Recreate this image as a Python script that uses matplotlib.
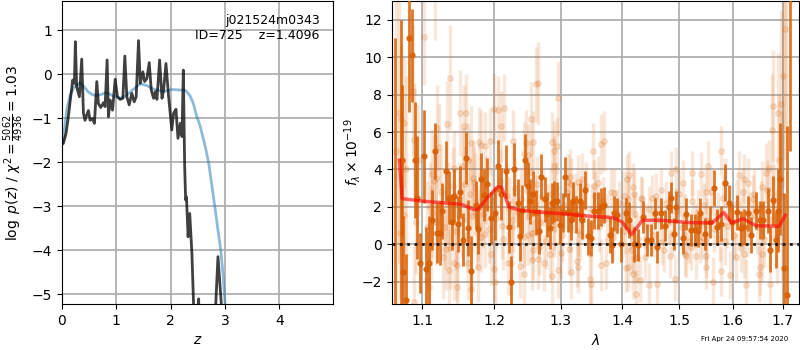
#!/usr/bin/env python
import matplotlib
matplotlib.use('Agg')
import matplotlib.pyplot as plt
from matplotlib.ticker import FixedLocator, FixedFormatter, NullLocator

#redshift panel: fitted prior-ish curve (blue) and log p(z) (dark)
z_blue = [0.0, 0.02, 0.05, 0.09, 0.15, 0.22, 0.33, 0.40, 0.48, 0.56, 0.64, 0.73, 0.82, 0.95,
          1.07, 1.17, 1.30, 1.44, 1.56, 1.68, 1.87, 2.02, 2.15, 2.27, 2.35, 2.42, 2.48, 2.54,
          2.64, 2.70, 2.76, 2.82, 2.87, 2.92, 2.96, 3.0, 3.05]
p_blue = [-1.6, -1.5, -1.2, -0.8, -0.48, -0.3, -0.2, -0.28, -0.4, -0.47, -0.49, -0.46, -0.42, -0.5,
          -0.55, -0.5, -0.36, -0.22, -0.26, -0.34, -0.4, -0.35, -0.36, -0.37, -0.48, -0.68, -0.97, -1.17,
          -1.67, -2.03, -2.55, -3.09, -3.55, -4.0, -4.5, -5.2, -7.0]

z_dark = [0.0, 0.025, 0.074, 0.117, 0.16, 0.197, 0.228, 0.246, 0.27, 0.32, 0.363, 0.394, 0.424, 0.455,
          0.486, 0.517, 0.56, 0.597, 0.64, 0.67, 0.713, 0.763, 0.793, 0.83, 0.855, 0.886, 0.93, 0.978,
          1.02, 1.07, 1.12, 1.156, 1.193, 1.236, 1.285, 1.328, 1.365, 1.408, 1.44, 1.488, 1.52, 1.562,
          1.605, 1.642, 1.685, 1.716, 1.747, 1.796, 1.84, 1.87, 1.913, 1.962, 2.02, 2.054, 2.097, 2.134,
          2.177, 2.208, 2.232, 2.257, 2.275, 2.29, 2.32, 2.35, 2.39, 2.42, 2.44, 2.5, 2.515, 2.53,
          2.79, 2.83, 2.87, 2.93, 2.96, 4.99]
p_dark = [-1.6, -1.576, -1.35, -0.97, -0.515, -0.136, -0.21, 0.735, -0.29, -0.515, 0.34, -0.89, -1.05, -0.93,
          -0.83, -1.05, -1.01, -1.12, -0.17, -0.67, -0.76, -0.65, -0.74, 0.32, -0.97, -0.59, -0.82, -0.12,
          -0.515, -0.575, -0.55, 0.41, -0.515, -0.70, -0.44, -0.63, -0.515, 0.76, -0.21, 0.05, -0.17, -0.10,
          0.26, -0.36, -0.55, -0.40, -0.575, 0.32, -0.55, -0.36, 0.24, -0.515, -1.27, -0.89, -0.80, -1.46,
          -1.12, -1.42, 0.09, -2.1, -2.86, -2.79, -3.7, -3.17, -4.07, -5.2, -7.0, -5.3, -5.11, -7.0,
          -7.0, -5.2, -4.15, -5.2, -7.0, -7.0]

#spectrum panel: binned points (dark)
wave_dark = [1.065, 1.072, 1.073, 1.075, 1.079, 1.083, 1.087, 1.0905, 1.0935, 1.097, 1.102, 1.105, 1.109, 1.113,
             1.117, 1.120, 1.124, 1.127, 1.132, 1.136, 1.140, 1.1435, 1.148, 1.151, 1.155, 1.159, 1.162, 1.166,
             1.174, 1.177, 1.181, 1.185, 1.19, 1.195, 1.2005, 1.205, 1.209, 1.217, 1.221, 1.225, 1.229, 1.234,
             1.238, 1.241, 1.2455, 1.25, 1.253, 1.258, 1.262, 1.2665, 1.27, 1.275, 1.279, 1.283, 1.286, 1.29,
             1.295, 1.2985, 1.303, 1.307, 1.312, 1.316, 1.32, 1.325, 1.33, 1.334, 1.338, 1.343, 1.349, 1.354,
             1.36, 1.365, 1.37, 1.379, 1.383, 1.387, 1.392, 1.399, 1.406, 1.412, 1.42, 1.428, 1.435, 1.442,
             1.45, 1.456, 1.461, 1.467, 1.475, 1.482, 1.486, 1.491, 1.495, 1.506, 1.513, 1.521, 1.528, 1.535,
             1.539, 1.547, 1.556, 1.564, 1.57, 1.578, 1.586, 1.593, 1.599, 1.608, 1.617, 1.623, 1.63, 1.636,
             1.645, 1.653, 1.66, 1.669, 1.673, 1.679, 1.686, 1.691, 1.695, 1.702, 1.708, 1.715]
flux_dark = [-4.0, -5.0, 4.5, -1.5, -3.0, 11.05, 10.1, 4.5, 2.5, -1.0, 4.7, -1.3, -1.0, 1.3,
             5.0, 0.6, 0.6, 1.8, 3.9, 2.5, 1.2, 2.6, 1.1, 2.8, 0.25, 4.6, 0.85, -1.45,
             2.1, 0.8, 3.5, 2.65, 3.2, 1.4, 1.65, 4.2, 2.7, 3.9, 0.93, -2.0, 4.0, 2.2,
             0.43, 1.85, 4.5, 3.1, 2.3, 2.7, 1.7, 0.7, 3.6, 2.4, 1.6, 0.87, 2.2, 2.3,
             2.3, 1.05, 1.7, 3.6, 1.7, 1.3, 2.3, 1.6, 2.3, 1.3, 2.9, 0.43, 0.35, 1.8,
             1.8, 2.0, 2.1, 0.5, -0.05, 1.65, 1.55, 0.0, 1.65, 1.3, 0.0, -0.05, 1.45, 0.25,
             0.25, 1.65, -0.15, 1.65, 1.0, 2.0, 2.5, 0.57, 2.0, 0.35, 1.6, 0.75, 0.75, 0.7,
             1.65, 0.57, 1.2, 3.0, 0.93, 1.1, 3.3, 2.2, 1.2, 1.7, 0.85, 0.93, 1.65, 0.5,
             1.8, 1.3, 1.3, 1.8, -0.3, 2.35, 0.25, 1.8, 3.5, -1.25, -2.7, 14.0]
err_dark = [15.0, 17.0, 4.0, 3.0, 2.5, 4.0, 2.5, 3.1, 3.3, 1.6, 2.5, 2.2, 2.5, 1.6,
            1.5, 1.6, 1.7, 1.5, 1.6, 1.4, 1.5, 1.4, 1.5, 1.4, 1.4, 1.4, 1.5, 1.9,
            1.3, 1.3, 1.4, 1.4, 1.4, 1.4, 1.4, 1.4, 1.4, 1.4, 1.4, 1.4, 1.4, 1.3,
            1.3, 1.3, 1.4, 1.3, 1.2, 1.2, 1.2, 1.2, 1.2, 1.2, 1.2, 1.1, 1.1, 1.1,
            1.05, 1.05, 1.05, 1.05, 1.05, 1.05, 1.05, 1.0, 1.0, 1.0, 1.0, 1.0, 0.95, 1.0,
            1.0, 1.0, 0.95, 0.95, 0.95, 0.95, 0.95, 0.95, 0.85, 0.95, 0.95, 0.85, 0.85, 0.85,
            0.85, 0.85, 0.85, 0.85, 0.85, 0.85, 0.85, 0.85, 0.85, 0.85, 0.85, 0.85, 0.85, 0.85,
            0.85, 0.85, 0.85, 0.95, 0.95, 0.95, 1.0, 0.95, 0.95, 0.95, 0.95, 0.95, 0.95, 0.95,
            1.0, 1.0, 1.0, 1.2, 1.2, 1.3, 1.5, 2.2, 3.0, 4.0, 9.0, 9.0]

#spectrum panel: individual exposures (pale)
wave_pale = [1.102, 1.138, 1.262, 1.265, 1.296, 1.214, 1.2, 1.206, 1.151, 1.159, 1.254, 1.072, 1.076, 1.134, 1.21, 1.12, 1.157,
             1.088, 1.089, 1.227, 1.167, 1.178, 1.193, 1.181, 1.187, 1.246, 1.257, 1.286, 1.295, 1.29, 1.122, 1.243, 1.25, 1.094, 1.163,
             1.113, 1.119, 1.143, 1.155, 1.169, 1.171, 1.29, 1.254, 1.314, 1.328, 1.334, 1.312, 1.317,
             1.076, 1.071, 1.092, 1.106, 1.113, 1.112, 1.132, 1.137, 1.128, 1.143, 1.147, 1.136, 1.163, 1.177, 1.147, 1.167,
             1.109, 1.106, 1.089, 1.195, 1.2, 1.201, 1.22, 1.224, 1.237, 1.243, 1.256, 1.265, 1.274, 1.283, 1.287, 1.296, 1.301,
             1.313, 1.317, 1.326, 1.327, 1.181, 1.176, 1.186, 1.211, 1.227, 1.25, 1.258, 1.267, 1.29, 1.33,
             1.37, 1.365, 1.352, 1.412, 1.408, 1.403, 1.42, 1.418, 1.432, 1.36, 1.354, 1.387, 1.452, 1.468, 1.486, 1.495,
             1.507, 1.524, 1.54, 1.55, 1.553, 1.578, 1.586, 1.612, 1.623, 1.63, 1.642, 1.658, 1.671, 1.665, 1.679, 1.691, 1.696, 1.678,
             1.365, 1.373, 1.347, 1.348, 1.406, 1.41, 1.418, 1.415, 1.431, 1.446, 1.461, 1.423, 1.493, 1.426, 1.439, 1.51, 1.53,
             1.549, 1.55, 1.562, 1.578, 1.595, 1.606, 1.616, 1.623, 1.626, 1.651, 1.653, 1.673, 1.658, 1.472, 1.483, 1.521, 1.42, 1.512,
             1.538, 1.55, 1.585,
             #denser band around the continuum, plus the bars running off the top at both ends
             1.117, 1.066, 1.069, 1.078, 1.11, 1.115, 1.118, 1.125, 1.13, 1.135, 1.141, 1.146, 1.15, 1.154, 1.158, 1.161, 1.165, 1.168,
             1.172, 1.175, 1.179, 1.183, 1.188, 1.192, 1.197, 1.203, 1.208, 1.213, 1.218, 1.222, 1.226, 1.231, 1.235, 1.239, 1.244,
             1.248, 1.252, 1.256, 1.26, 1.264, 1.268, 1.272, 1.277, 1.281, 1.285, 1.289, 1.293, 1.298, 1.302, 1.306, 1.31, 1.315, 1.319,
             1.323, 1.328, 1.332, 1.336, 1.34, 1.345, 1.35, 1.355, 1.362, 1.368, 1.375, 1.381, 1.385, 1.39, 1.395, 1.401, 1.405, 1.41,
             1.416, 1.422, 1.427, 1.434, 1.44, 1.447, 1.453, 1.459, 1.464, 1.47, 1.477, 1.481, 1.488, 1.494, 1.5, 1.505, 1.511, 1.517,
             1.523, 1.529, 1.534, 1.541, 1.546, 1.552, 1.558, 1.565, 1.571, 1.576, 1.582, 1.589, 1.596, 1.602, 1.609, 1.614, 1.62,
             1.628, 1.634, 1.639, 1.647, 1.655, 1.662, 1.668, 1.675, 1.682, 1.688, 1.693, 1.698, 1.7, 1.704, 1.706]
flux_pale = [11.1, 8.9, 8.55, 8.6, 7.8, 7.3, 7.25, 7.2, 7.0, 7.0, 6.7, 6.7, 6.5, 6.45, 6.3, 6.2, 6.3,
             8.2, 5.6, 5.5, 5.4, 5.45, 5.5, 5.3, 5.25, 5.4, 5.45, 5.45, 5.25, 5.0, 5.2, 4.85, 4.75, 4.5, 4.5,
             3.75, 3.55, 4.1, 4.2, 3.55, 3.35, 4.2, 3.85, 3.6, 3.35, 3.5, 3.35, 3.2,
             1.55, 0.6, 1.2, 0.9, 1.65, 0.6, -0.25, -0.2, -0.7, -1.0, -1.1, -1.4, -1.0, -1.2, -2.3, -2.4,
             -2.3, -1.9, -3.1, -0.5, -1.3, -2.0, -1.0, -1.0, -1.15, -1.6, -0.85, -0.8, -1.0, -0.5, -1.7, -1.35, -0.45,
             -0.25, -1.5, -0.9, -1.2, 0.4, 1.0, 0.55, 1.0, 1.3, 0.5, -0.3, -0.15, 0.8, 0.55,
             5.5, 5.35, 5.0, 3.7, 3.5, 2.6, 2.7, 3.05, 2.45, 3.3, 3.1, 2.75, 2.5, 2.9, 3.8, 4.0,
             3.3, 3.8, 3.75, 2.8, 4.2, 5.0, 3.3, 3.7, 3.5, 3.3, 2.7, 3.05, 4.1, 3.8, 7.4, 7.0, 7.5, 6.1,
             -1.1, -1.0, -1.85, -2.1, -1.25, -1.2, -1.6, -0.3, -1.9, -2.2, -2.1, -2.65, -1.85, -0.7, -0.7, -0.5, -0.65,
             -0.6, -1.2, -2.0, -1.45, -1.65, -0.7, -0.2, -0.5, -2.2, -1.6, -1.2, -2.1, -0.5, -0.3, -0.6, -0.15, -0.75, -0.6,
             0.2, 0.2, 0.2,
             13.6, 5.0, 7.0, 4.0, 2.0, 3.4, 1.2, 2.8, 0.9, 2.2, 3.1, 0.7, 2.4, 1.3, 3.2, 0.5, 2.7, 1.5,
             3.0, 0.6, 2.0, 1.6, 2.9, 0.8, 2.3, 1.4, 3.4, 0.3, 2.6, 1.9, 0.9, 3.0, 1.7, 2.4, 0.4,
             2.9, 1.5, 0.6, 2.2, 3.2, 1.2, 2.5, 0.2, 1.8, 2.7, 1.1, 3.0, 1.4, 0.5, 2.1, 2.8, 0.9, 1.9,
             2.5, 0.7, 2.2, 1.5, 3.1, 0.6, 1.9, 2.6, 0.9, 2.3, 1.4, 2.8, 0.4, 1.7, 2.2, 1.1, 0.7, 2.4,
             0.9, 1.6, 0.3, 2.4, 1.0, 1.9, 0.5, 2.6, 1.3, 0.1, 2.2, 1.2, 0.6, 1.8, 2.7, 0.9, 1.5, 0.2,
             2.3, 1.0, 1.7, 0.4, 2.1, 1.3, 2.8, 0.8, 1.6, 0.3, 2.5, 1.0, 1.9, 0.5, 2.2, 1.2, 2.8,
             0.6, 1.5, 2.4, 0.9, 2.0, 0.3, 2.9, 1.3, 2.3, 0.4, 4.5, 2.6, 9.0, 11.5, 14.0]
err_pale = [2.6, 2.8, 2.0, 2.2, 2.0, 1.8, 1.9, 1.8, 2.3, 2.1, 2.0, 4.0, 3.5, 2.3, 1.9, 2.3, 2.2,
            3.5, 3.0, 1.7, 2.0, 1.9, 1.8, 1.9, 1.8, 1.8, 1.7, 1.6, 1.5, 1.6, 2.3, 1.7, 1.7, 3.0, 2.0,
            2.4, 2.3, 2.0, 2.0, 2.0, 1.9, 1.6, 1.7, 1.5, 1.4, 1.4, 1.5, 1.4,
            3.0, 3.5, 2.8, 2.5, 2.4, 2.5, 2.2, 2.2, 2.2, 2.0, 2.0, 2.2, 2.0, 1.9, 2.0, 2.0,
            2.5, 2.5, 3.0, 1.7, 1.8, 1.7, 1.7, 1.7, 1.7, 1.6, 1.6, 1.6, 1.5, 1.5, 1.5, 1.5, 1.4,
            1.4, 1.4, 1.4, 1.4, 1.9, 1.9, 1.8, 1.8, 1.7, 1.6, 1.6, 1.5, 1.5, 1.4,
            1.6, 1.6, 1.5, 1.3, 1.3, 1.3, 1.3, 1.3, 1.2, 1.4, 1.4, 1.3, 1.2, 1.2, 1.2, 1.2,
            1.2, 1.2, 1.2, 1.2, 1.3, 1.3, 1.3, 1.3, 1.3, 1.3, 1.3, 1.4, 1.5, 1.6, 3.0, 3.2, 5.0, 3.0,
            1.4, 1.4, 1.5, 1.5, 1.3, 1.3, 1.3, 1.3, 1.2, 1.2, 1.2, 1.3, 1.2, 1.3, 1.2, 1.2, 1.2,
            1.2, 1.2, 1.3, 1.3, 1.3, 1.3, 1.3, 1.3, 1.4, 1.5, 1.5, 1.6, 1.5, 1.2, 1.2, 1.2, 1.3, 1.2,
            1.2, 1.2, 1.3,
            2.7, 9.0, 8.0, 5.0, 2.4, 2.4, 2.3, 2.3, 2.2, 2.2, 2.1, 2.1, 2.0, 2.0, 2.0, 2.0, 1.9, 1.9,
            1.9, 1.9, 1.8, 1.8, 1.8, 1.8, 1.7, 1.7, 1.7, 1.7, 1.7, 1.7, 1.6, 1.6, 1.6, 1.6, 1.6,
            1.6, 1.5, 1.5, 1.5, 1.5, 1.5, 1.5, 1.5, 1.4, 1.4, 1.4, 1.4, 1.4, 1.4, 1.3, 1.3, 1.3, 1.3,
            1.3, 1.3, 1.3, 1.3, 1.3, 1.3, 1.3, 1.3, 1.3, 1.3, 1.3, 1.2, 1.2, 1.2, 1.2, 1.2, 1.2, 1.2,
            1.2, 1.2, 1.2, 1.2, 1.2, 1.2, 1.2, 1.2, 1.2, 1.2, 1.2, 1.2, 1.2, 1.2, 1.2, 1.2, 1.2, 1.2,
            1.2, 1.2, 1.2, 1.2, 1.2, 1.2, 1.2, 1.2, 1.2, 1.2, 1.2, 1.2, 1.2, 1.3, 1.3, 1.3, 1.3,
            1.3, 1.3, 1.3, 1.4, 1.4, 1.5, 1.6, 1.8, 2.0, 2.5, 3.5, 4.5, 6.0, 7.0, 8.0]

#best fit model
wave_model = [1.07, 1.0735, 1.102, 1.153, 1.171, 1.178, 1.19, 1.205, 1.21, 1.2165, 1.221, 1.239, 1.2985, 1.347,
              1.384, 1.4, 1.416, 1.435, 1.47, 1.518, 1.561, 1.583, 1.598, 1.62, 1.645, 1.692, 1.705]
flux_model = [4.5, 2.44, 2.3, 2.14, 1.85, 1.9, 2.5, 3.07, 3.07, 2.5, 2.0, 1.8, 1.64, 1.5,
              1.43, 1.2, 0.52, 1.28, 1.28, 1.16, 1.14, 1.7, 1.14, 1.37, 1.0, 0.96, 1.55]

z_ticks = [0, 1, 2, 3, 4]
p_ticks = [-5, -4, -3, -2, -1, 0, 1]
wave_ticks = [1.1, 1.2, 1.3, 1.4, 1.5, 1.6, 1.7]
wave_ticklabels = ['1.1', '1.2', '1.3', '1.4', '1.5', '1.6', '1.7']
flux_ticks = [-2, 0, 2, 4, 6, 8, 10, 12]

orange = '#d95f02'

fig = plt.figure(figsize=(8, 3.5), dpi=100)
ax1 = fig.add_axes([0.0775, 0.131, 0.339, 0.866])
ax2 = fig.add_axes([0.4895, 0.131, 0.509, 0.866])

ax1.plot(z_blue, p_blue, color='tab:blue', alpha=0.5, lw=2)
ax1.plot(z_dark, p_dark, color='k', alpha=0.75, lw=2)
ax1.set_xlim(0, 4.99)
ax1.set_ylim(-5.23, 1.66)
ax1.set_xticks(z_ticks)
ax1.set_yticks(p_ticks)
ax1.grid(color='#aaaaaa', lw=1.2)
ax1.set_xlabel('$z$')
ax1.set_ylabel(r'$\log\ p(z)$ / $\chi^2=\frac{5062}{4936}=1.03$')
ax1.text(0.95, 0.957, 'j021524m0343\nID=725    z=1.4096', transform=ax1.transAxes,
         ha='right', va='top', fontsize=9, linespacing=1.15)

#the pale exposures first so the binned points sit on top
ax2.errorbar(wave_pale, flux_pale, yerr=err_pale, fmt='o', color=orange, alpha=0.15,
             ms=4, elinewidth=2.5, zorder=2)
ax2.errorbar(wave_dark, flux_dark, yerr=err_dark, fmt='o', color=orange, alpha=0.85,
             ms=3.5, elinewidth=2, zorder=3)
ax2.plot(wave_model, flux_model, color='r', alpha=0.6, lw=2.5, zorder=4)
ax2.axhline(0, color='k', ls=':', lw=2, alpha=0.85, zorder=5)
ax2.set_xscale('log')
ax2.set_xlim(1.06, 1.733)
ax2.set_ylim(-3.2, 13)
ax2.xaxis.set_major_locator(FixedLocator(wave_ticks))
ax2.xaxis.set_major_formatter(FixedFormatter(wave_ticklabels))
ax2.xaxis.set_minor_locator(NullLocator())
ax2.set_yticks(flux_ticks)
ax2.grid(color='#aaaaaa', lw=1.2)
ax2.set_xlabel(r'$\lambda$')
ax2.set_ylabel(r'$f_\lambda \times 10^{-19}$', labelpad=-1)

fig.text(0.985, 0.03, 'Fri Apr 24 09:57:54 2020', ha='right', va='center', fontsize=5)

fig.savefig('out.png', dpi=100)
